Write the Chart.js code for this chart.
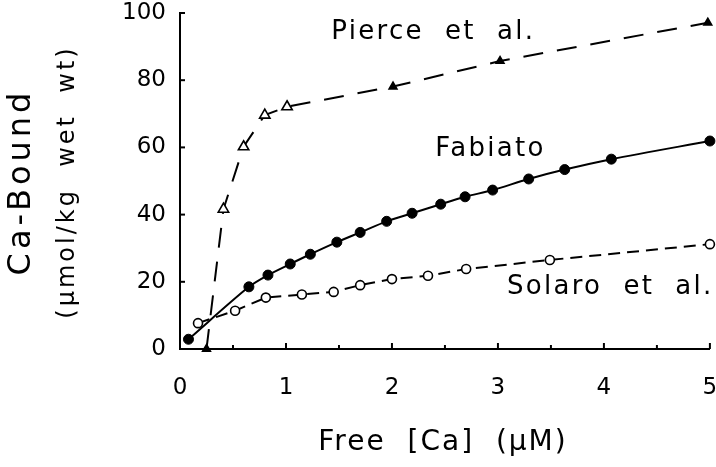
<!DOCTYPE html>
<html><head><meta charset="utf-8">
<script src="https://cdn.jsdelivr.net/npm/chart.js@4/dist/chart.umd.min.js"></script>
<style>html,body{margin:0;padding:0;background:#fff}#wrap{width:716px;height:467px}</style>
</head><body><div id="wrap"><canvas id="c" width="716" height="467"></canvas></div>
<script>
// ---- data ----
const fabiatoX = [0.08, 0.65, 0.83, 1.04, 1.23, 1.48, 1.70, 1.95, 2.19, 2.46, 2.69, 2.95, 3.29, 3.63, 4.07, 5.00];
const fabiatoY = [2.9, 18.5, 22.0, 25.3, 28.2, 31.8, 34.7, 38.0, 40.4, 43.1, 45.3, 47.3, 50.6, 53.4, 56.5, 61.9];
const solaroX = [0.17, 0.52, 0.81, 1.15, 1.45, 1.70, 2.00, 2.34, 2.70, 3.49, 5.00];
const solaroY = [7.7, 11.4, 15.3, 16.2, 17.0, 19.0, 20.8, 21.8, 23.8, 26.5, 31.2];
const pierceX = [0.25, 0.41, 0.60, 0.80, 1.01, 2.01, 3.02, 4.98];
const pierceY = [0.0, 41.6, 60.2, 69.6, 72.1, 78.1, 85.7, 97.1];
const pierceOpen = [false, true, true, true, true, false, false, false];
const seriesNames = ['Fabiato', 'Solaro  et  al.', 'Pierce  et  al.'];
const xTickValues = [0, 1, 2, 3, 4, 5];
const yTickValues = [0, 20, 40, 60, 80, 100];
const xTitle = 'Free  [Ca]  (\u00B5M)';
const yTitle = 'Ca-Bound';
const yUnit = '(\u00B5mol/kg  wet  wt)';

const FONT = '"DejaVu Sans", sans-serif';
function pts(xs, ys) { return xs.map((x, i) => ({ x: x, y: ys[i] })); }

const deco = {
  id: 'deco',
  afterDraw(chart) {
    const { ctx, scales: { x, y }, chartArea: a } = chart;
    ctx.save();
    ctx.strokeStyle = '#000';
    ctx.lineWidth = 2;
    // inward tick marks
    for (let i = 0; i <= 10; i++) {
      const v = i / 2;
      const px = x.getPixelForValue(v);
      const len = (i % 2 === 0) ? 6 : 4;
      ctx.beginPath(); ctx.moveTo(px, a.bottom); ctx.lineTo(px, a.bottom - len); ctx.stroke();
    }
    yTickValues.forEach(v => {
      const py = y.getPixelForValue(v);
      ctx.beginPath(); ctx.moveTo(a.left, py); ctx.lineTo(a.left + 5, py); ctx.stroke();
    });
    ctx.fillStyle = '#000';
    ctx.textAlign = 'center';
    ctx.textBaseline = 'middle';
    // series annotations
    ctx.font = '26px ' + FONT;
    ctx.letterSpacing = '2.3px';
    const notes = [
      { t: seriesNames[2], x: 2.39, y: 94.3 },
      { t: seriesNames[0], x: 2.93, y: 59.5 },
      { t: seriesNames[1], x: 4.06, y: 18.5 }
    ];
    notes.forEach(n => ctx.fillText(n.t, x.getPixelForValue(n.x), y.getPixelForValue(n.y)));
    // x title
    ctx.font = '28px ' + FONT;
    ctx.letterSpacing = '2px';
    ctx.fillText(xTitle, 443, 443);
    // y titles
    ctx.save();
    ctx.translate(22, 182);
    ctx.rotate(-Math.PI / 2);
    ctx.font = '32px ' + FONT;
    ctx.letterSpacing = '4px';
    ctx.fillText(yTitle, 0, 0);
    ctx.restore();
    ctx.save();
    ctx.translate(68, 182);
    ctx.rotate(-Math.PI / 2);
    ctx.font = '24px ' + FONT;
    ctx.letterSpacing = '3px';
    ctx.fillText(yUnit, 0, 0);
    ctx.restore();
    ctx.restore();
  }
};

new Chart(document.getElementById('c'), {
  type: 'scatter',
  data: {
    datasets: [
      {
        label: 'Fabiato', data: pts(fabiatoX, fabiatoY), showLine: true,
        borderColor: '#000', borderWidth: 2, tension: 0.3,
        pointRadius: 5, pointBackgroundColor: '#000', pointBorderColor: '#000', pointBorderWidth: 1,
        clip: false
      },
      {
        label: 'Solaro et al.', data: pts(solaroX, solaroY), showLine: true,
        borderColor: '#000', borderWidth: 2, borderDash: [12, 7], tension: 0,
        pointRadius: 4.5, pointBackgroundColor: '#fff', pointBorderColor: '#000', pointBorderWidth: 1.6,
        clip: false
      },
      {
        label: 'Pierce et al.', data: pts(pierceX, pierceY), showLine: true,
        borderColor: '#000', borderWidth: 2, borderDash: [20, 14], tension: 0,
        pointStyle: 'triangle',
        pointRadius: pierceOpen.map(o => o ? 6 : 4.5),
        pointBackgroundColor: pierceOpen.map(o => o ? '#fff' : '#000'),
        pointBorderColor: '#000', pointBorderWidth: 1.6,
        clip: false
      }
    ]
  },
  options: {
    responsive: false, animation: false, devicePixelRatio: 1,
    layout: { padding: { top: 13, right: 6, left: 0, bottom: 0 } },
    plugins: { legend: { display: false }, tooltip: { enabled: false } },
    scales: {
      x: {
        type: 'linear', min: 0, max: 5,
        afterBuildTicks: s => { s.ticks = xTickValues.map(v => ({ value: v })); },
        ticks: { color: '#000', font: { family: FONT, size: 23 }, padding: 25, maxRotation: 0 },
        grid: { display: false, drawTicks: false },
        border: { display: true, color: '#000', width: 2 },
        afterFit: s => { s.height = 118; s.paddingLeft = 0; s.paddingRight = 0; }
      },
      y: {
        type: 'linear', min: 0, max: 100,
        afterBuildTicks: s => { s.ticks = yTickValues.map(v => ({ value: v })); },
        ticks: { color: '#000', font: { family: FONT, size: 23 }, padding: 14 },
        grid: { display: false, drawTicks: false },
        border: { display: true, color: '#000', width: 2 },
        afterFit: s => { s.width = 180; s.paddingTop = 0; s.paddingBottom = 0; }
      }
    }
  },
  plugins: [deco]
});
</script>
</body></html>
